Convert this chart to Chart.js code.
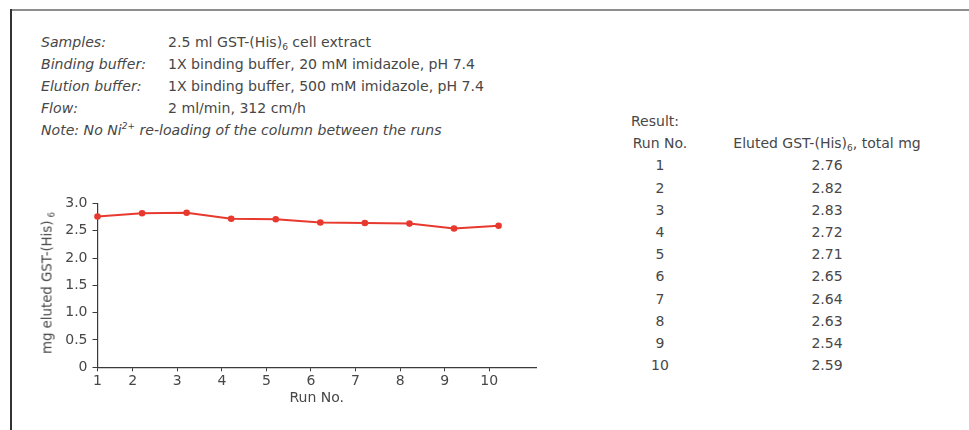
<!DOCTYPE html>
<html>
<head>
<meta charset="utf-8">
<script src="https://cdn.jsdelivr.net/npm/chart.js@4"></script>
<style>
  body { margin: 0; width: 969px; height: 430px; background: #fff; position: relative; overflow: hidden;
         font-family: "DejaVu Sans", sans-serif; color: #474747; }
  .frame-top { position: absolute; left: 10px; top: 9px; width: 959px; height: 2px; background: #8e8e8e; }
  .frame-left { position: absolute; left: 10px; top: 9px; width: 2px; height: 421px; background: #333; }
  .info { position: absolute; left: 41px; top: 31px; font-size: 14.1px; line-height: 22px; }
  .info .row { white-space: nowrap; }
  .info .lbl { display: inline-block; width: 127px; font-style: italic; }
  .info sub { font-size: 9px; vertical-align: -3px; line-height: 0; }
  .info sup { font-size: 9px; vertical-align: 6px; line-height: 0; }
  .result { position: absolute; left: 631px; top: 110px; font-size: 14px; line-height: 22.2px; }
  .result .r { display: flex; white-space: nowrap; }
  .result .c1 { width: 58px; text-align: center; }
  .result .c2 { width: 190px; margin-left: 43px; text-align: center; }
  .result sub { font-size: 9px; vertical-align: -3px; line-height: 0; }
  #chartBox { position: absolute; left: 30px; top: 190px; width: 520px; height: 225px; }
  .ytitle { position: absolute; left: 46.5px; top: 283px; transform: translate(-50%, -50%) rotate(-90deg);
            white-space: nowrap; font-size: 13.3px; color: #474747; }
  .ytitle sub { font-size: 8.5px; vertical-align: -3px; line-height: 0; margin-left: 3px; }
</style>
</head>
<body>
<div class="frame-top"></div>
<div class="frame-left"></div>

<div class="info">
  <div class="row"><span class="lbl">Samples:</span>2.5 ml GST-(His)<sub>6</sub> cell extract</div>
  <div class="row"><span class="lbl">Binding buffer:</span>1X binding buffer, 20 mM imidazole, pH 7.4</div>
  <div class="row"><span class="lbl">Elution buffer:</span>1X binding buffer, 500 mM imidazole, pH 7.4</div>
  <div class="row"><span class="lbl">Flow:</span>2 ml/min, 312 cm/h</div>
  <div class="row"><i>Note: No Ni<sup>2+</sup> re-loading of the column between the runs</i></div>
</div>

<div class="result" id="result">
  <div class="r">Result:</div>
  <div class="r"><span class="c1">Run No.</span><span class="c2">Eluted GST-(His)<sub>6</sub>, total mg</span></div>
</div>

<div id="chartBox"><canvas id="runChart"></canvas></div>
<div class="ytitle">mg eluted GST-(His)<sub>6</sub></div>

<script>
const runs = [1, 2, 3, 4, 5, 6, 7, 8, 9, 10];
const runLabels = ["1", "2", "3", "4", "5", "6", "7", "8", "9", "10"];
const elutedMg = [2.76, 2.82, 2.83, 2.72, 2.71, 2.65, 2.64, 2.63, 2.54, 2.59];

// fill the table next to the chart
const result = document.getElementById("result");
runs.forEach((r, i) => {
    let row = `<div class="r"><span class="c1">${runLabels[i]}</span><span class="c2">${elutedMg[i].toFixed(2)}</span></div>`;
    result.innerHTML += row;
});

const axisColor = "#3a3a3a";
const textColor = "#474747";
const tickFont = { family: "DejaVu Sans", size: 14 };

const ctx = document.getElementById("runChart").getContext("2d");
new Chart(ctx, {
    type: "line",
    data: {
        datasets: [{
            data: runs.map((r, i) => ({ x: r, y: elutedMg[i] })),
            borderColor: "#e8392f",
            backgroundColor: "#e8392f",
            borderWidth: 2,
            pointRadius: 3.3,
            pointBorderWidth: 0,
            tension: 0,
            clip: false
        }]
    },
    options: {
        responsive: true,
        maintainAspectRatio: false,
        animation: false,
        layout: { padding: { top: 12.7, right: 14, left: 0, bottom: 0 } },
        plugins: { legend: { display: false }, tooltip: { enabled: false } },
        scales: {
            x: {
                type: "linear",
                min: 1,
                max: 10.84,
                // the original figure puts run ticks slightly left of the points
                afterBuildTicks: scale => {
                    scale.ticks = runs.map(r => ({ value: r === runs[0] ? r : r - 0.21 }));
                },
                afterFit: scale => { scale.height = 47.7; },
                ticks: {
                    autoSkip: false,
                    maxRotation: 0,
                    color: textColor,
                    font: tickFont,
                    padding: 2,
                    callback: (v, i) => runLabels[i]
                },
                grid: { drawOnChartArea: false, drawTicks: true, tickLength: 4, color: axisColor },
                border: { color: axisColor, width: 1.2 },
                title: { display: true, text: "Run No.", color: textColor, font: tickFont, padding: { top: 0, bottom: 8 } }
            },
            y: {
                min: 0,
                max: 3,
                afterFit: scale => { scale.width = 67.5; },
                ticks: {
                    stepSize: 0.5,
                    color: textColor,
                    font: tickFont,
                    padding: 5,
                    callback: v => v === 0 ? "0" : v.toFixed(1)
                },
                grid: { drawOnChartArea: false, drawTicks: true, tickLength: 5, color: axisColor },
                border: { color: axisColor, width: 1.2 }
            }
        }
    }
});
</script>
</body>
</html>
